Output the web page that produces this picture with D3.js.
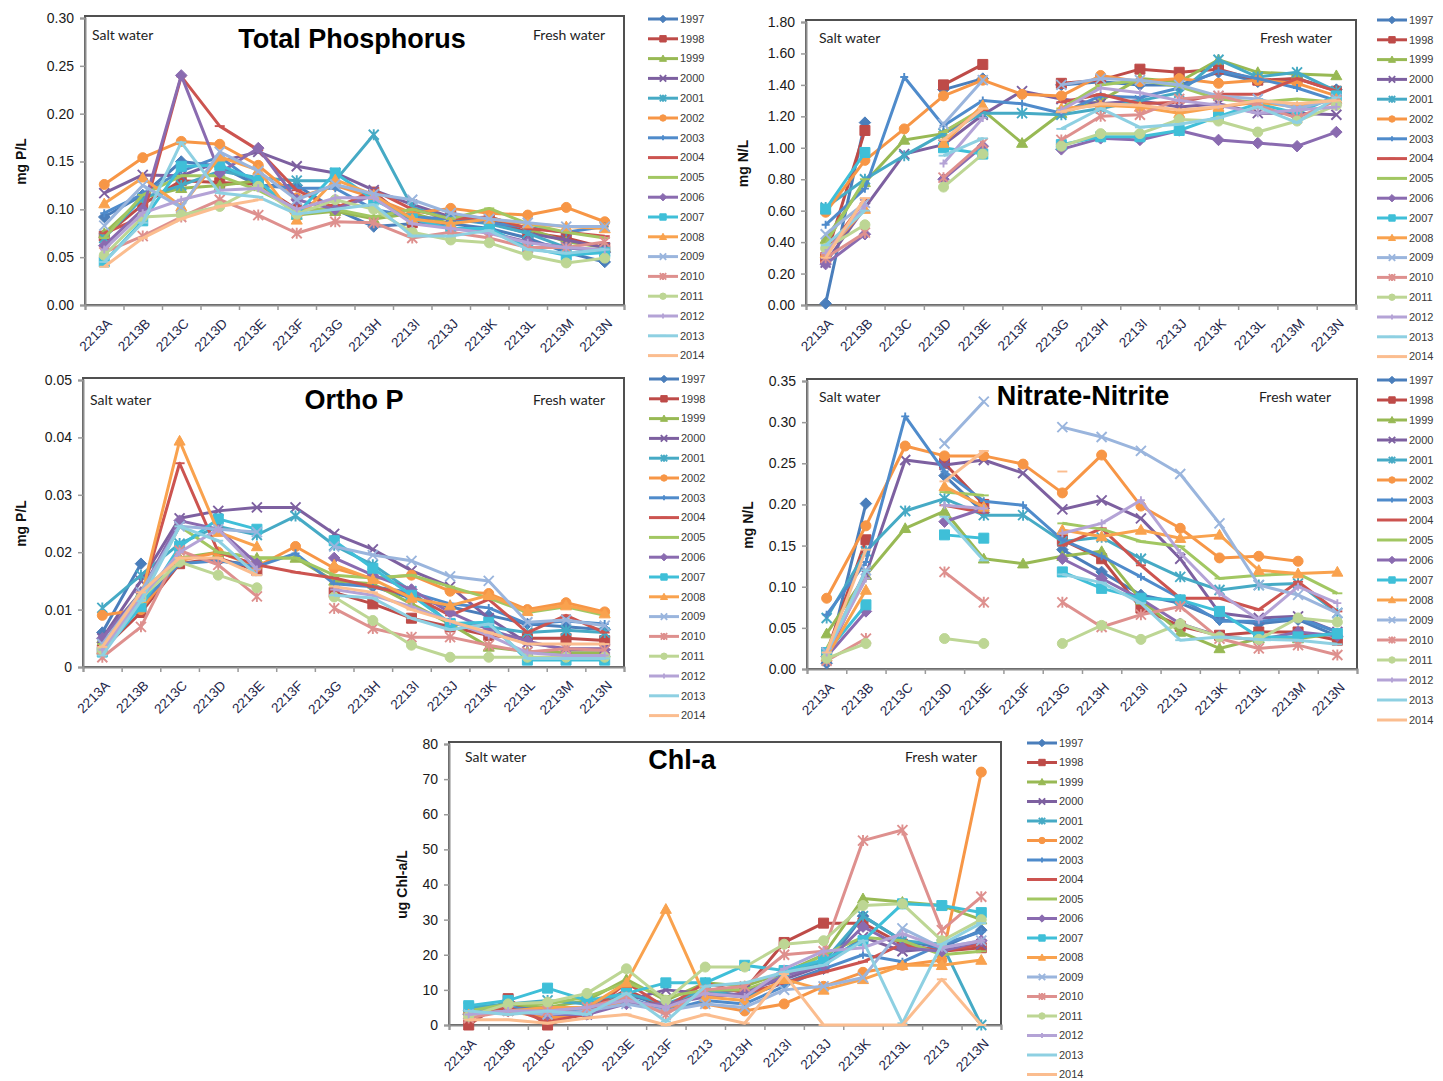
<!DOCTYPE html>
<html>
<head>
<meta charset="utf-8">
<script src="https://cdn.jsdelivr.net/npm/d3@7"></script>
<style>
  body { margin: 0; background: #fff; }
  svg { display: block; }
</style>
</head>
<body>
<svg id="chart" width="1443" height="1081"></svg>
<script>
// ---- data -------------------------------------------------------------
const years = ["1997","1998","1999","2000","2001","2002","2003","2004","2005",
               "2006","2007","2008","2009","2010","2011","2012","2013","2014"];
const sites = ["2213A","2213B","2213C","2213D","2213E","2213F","2213G",
               "2213H","2213I","2213J","2213K","2213L","2213M","2213N"];
const chlSites = ["2213A","2213B","2213C","2213D","2213E","2213F","2213",
                  "2213H","2213I","2213J","2213K","2213L","2213","2213N"];

const seriesColors = ["#4A7EBB","#BE4B48","#98B954","#7D60A0","#46AAC5","#F79646",
                      "#4F8BCB","#CC5450","#A2C762","#8A6BB0","#3FBFD8","#F9A24E",
                      "#9AB5DD","#DE908E","#BDD694","#B4A3D6","#8ED0E2","#FBBD8F"];
const seriesMarkers = ["diamond","square","triangle","x","star","circle","plus","dash","dash",
                       "diamond","square","triangle","x","star","circle","plus","dash","dash"];

// Total phosphorus, mg P/L (rows = years, columns = sites)
const totalP = [
  [0.092,0.115,0.150,0.145,0.125,0.125,0.100,0.082,0.085,0.085,0.080,0.070,0.055,0.045],
  [0.072,0.105,0.130,0.128,0.126,0.100,0.100,0.118,0.086,0.095,0.090,0.076,0.070,0.060],
  [0.075,0.112,0.122,0.125,0.130,0.094,0.098,0.090,0.096,0.085,0.092,0.080,0.066,0.060],
  [0.117,0.136,0.135,0.150,0.160,0.145,0.138,0.120,0.105,0.092,0.086,0.075,0.068,0.060],
  [0.070,0.112,0.125,0.140,0.133,0.130,0.130,0.178,0.102,0.090,0.085,0.075,0.060,0.056],
  [0.126,0.154,0.171,0.168,0.146,0.112,0.125,0.112,0.096,0.101,0.096,0.094,0.102,0.087],
  [0.096,0.116,0.140,0.155,0.125,0.122,0.122,0.100,0.092,0.090,0.086,0.081,0.076,0.082],
  [0.075,0.092,0.239,0.187,0.162,0.120,0.101,0.120,0.100,0.090,0.092,0.080,0.076,0.072],
  [0.070,0.115,0.135,0.135,0.120,0.100,0.100,0.092,0.100,0.090,0.101,0.085,0.076,0.070],
  [0.062,0.100,0.240,0.138,0.164,0.110,0.100,0.115,0.090,0.080,0.076,0.066,0.060,0.055],
  [0.045,0.088,0.145,0.146,0.130,0.095,0.138,0.110,0.090,0.080,0.080,0.060,0.052,0.055],
  [0.106,0.133,0.103,0.155,0.141,0.089,0.131,0.115,0.090,0.085,0.090,0.085,0.082,0.080],
  [0.083,0.125,0.102,0.160,0.140,0.110,0.126,0.116,0.110,0.096,0.090,0.086,0.082,0.082],
  [0.055,0.072,0.092,0.110,0.094,0.075,0.087,0.086,0.070,0.076,0.070,0.060,0.060,0.066],
  [0.052,0.092,0.094,0.103,0.124,0.095,0.110,0.100,0.076,0.068,0.065,0.052,0.044,0.049],
  [0.058,0.096,0.110,0.120,0.122,0.100,0.112,0.112,0.085,0.080,0.075,0.065,0.060,0.058],
  [0.045,0.086,0.170,0.117,0.113,0.095,0.100,0.105,0.072,0.072,0.078,0.058,0.054,0.058],
  [0.040,0.070,0.090,0.103,0.110,null,null,null,null,null,null,null,null,null]
];

// Total nitrogen, mg N/L
const totalN = [
  [0.01,1.16,null,1.37,1.44,null,1.40,1.42,1.40,1.40,1.48,1.42,1.44,1.37],
  [0.30,1.11,null,1.40,1.53,null,1.41,1.43,1.50,1.48,1.50,1.43,1.44,1.36],
  [0.42,0.78,1.05,1.09,1.24,1.03,1.22,1.30,1.44,1.42,1.56,1.48,1.47,1.46],
  [0.27,0.62,0.96,1.02,1.21,1.36,1.31,1.28,1.30,1.26,1.28,1.22,1.22,1.21],
  [0.62,0.80,0.95,1.09,1.22,1.22,1.21,1.25,1.30,1.35,1.56,1.45,1.48,1.36],
  [0.59,0.92,1.12,1.33,1.43,1.34,1.33,1.46,1.42,1.44,1.41,1.43,1.41,1.33],
  [0.51,0.74,1.45,1.14,1.30,1.28,1.22,1.33,1.32,1.38,1.49,1.44,1.38,1.30],
  [0.33,0.67,null,1.10,1.24,null,1.29,1.34,1.28,1.29,1.34,1.34,1.44,1.36],
  [0.39,0.80,null,1.10,1.25,null,1.25,1.40,1.43,1.39,1.31,1.29,1.31,1.29],
  [0.26,0.45,null,0.80,1.01,null,0.99,1.06,1.05,1.11,1.05,1.03,1.01,1.10],
  [0.61,0.97,null,1.00,0.96,null,1.02,1.07,1.07,1.11,1.20,1.28,1.22,1.33],
  [0.33,0.61,null,1.03,1.27,null,1.25,1.27,1.26,1.22,1.26,1.29,1.26,1.31],
  [0.45,0.65,null,1.15,1.43,null,1.40,1.44,1.43,1.40,1.33,1.31,1.25,1.31],
  [0.30,0.46,null,0.81,1.03,null,1.05,1.20,1.21,1.31,1.33,1.27,1.19,1.30],
  [0.36,0.51,null,0.75,0.96,null,1.01,1.09,1.09,1.18,1.17,1.10,1.17,1.27],
  [0.33,0.63,null,0.90,1.19,null,1.24,1.38,1.35,1.30,1.27,1.22,1.24,1.26],
  [0.38,0.60,null,0.95,1.06,null,1.12,1.25,1.13,1.15,1.19,1.26,1.16,1.32],
  [0.30,0.68,null,1.05,1.25,null,1.23,1.28,1.27,1.24,1.26,1.30,1.28,1.30]
];

// Ortho phosphate, mg P/L
const orthoP = [
  [0.006,0.018,null,0.0185,0.0178,null,0.0152,0.014,0.012,0.0105,0.009,0.0075,0.007,0.0065],
  [0.003,0.0095,0.018,0.019,0.0168,null,0.013,0.011,0.0085,0.007,0.0055,0.005,0.005,0.0046],
  [0.005,0.013,0.019,0.020,0.019,0.019,0.015,0.0145,0.011,0.0075,0.0035,0.0027,0.0025,0.0025],
  [0.005,0.015,0.0259,0.0272,0.0278,0.0278,0.0232,0.0205,0.0168,0.014,0.0085,0.0042,0.0032,0.0032],
  [0.0103,0.016,0.0215,0.0245,0.023,0.0263,0.0212,0.0178,0.0132,0.0075,0.007,0.006,0.0064,0.006],
  [0.009,0.010,0.0185,0.020,0.0175,0.021,0.0172,0.0154,0.016,0.0132,0.0128,0.010,0.0112,0.0096],
  [0.004,0.011,0.018,0.0185,0.0175,0.0198,0.0145,0.014,0.013,0.011,0.0103,0.0075,0.008,0.0075],
  [0.004,0.012,0.0355,0.020,0.0178,0.0165,0.0155,0.014,0.0125,0.009,0.0118,0.006,0.009,0.006],
  [0.004,0.012,0.0245,0.020,0.019,0.019,0.016,0.0155,0.016,0.014,0.012,0.0095,0.0105,0.009],
  [0.005,0.013,0.0255,0.024,0.018,null,0.019,0.016,0.0135,0.0095,0.0065,0.0045,0.003,0.003],
  [0.0026,0.0105,0.021,0.0258,0.024,null,0.022,0.0172,0.0125,0.0076,0.0078,0.0012,0.0012,0.0012],
  [0.003,0.012,0.0394,0.0235,0.021,null,0.0178,0.0153,0.012,0.0107,0.0125,0.0097,0.0107,0.0093],
  [0.004,0.013,0.0245,0.024,0.0235,null,0.021,0.0195,0.0185,0.0158,0.015,0.0078,0.0082,0.0072],
  [0.0017,0.007,0.0203,0.0178,0.0123,null,0.0102,0.0067,0.0052,0.0052,0.0038,0.0026,0.0032,0.0029],
  [0.003,0.012,0.0183,0.016,0.0138,null,0.0122,0.0081,0.0038,0.0017,0.0017,0.0017,0.0017,0.0017],
  [0.003,0.012,0.020,0.024,0.017,null,0.0135,0.0125,0.0105,0.008,0.0055,0.0025,0.002,0.002],
  [0.002,0.0115,0.0245,0.022,0.016,null,0.0125,0.012,0.0085,0.0065,0.0075,0.0015,0.0015,0.0015],
  [0.0035,0.013,0.019,0.019,0.016,null,0.014,0.013,0.010,0.008,0.006,0.004,0.004,0.004]
];

// Nitrate-nitrite, mg N/L
const nitrateNitrite = [
  [0.007,0.201,null,0.235,0.190,null,0.145,0.118,0.090,0.080,0.060,0.055,0.060,0.040],
  [0.020,0.157,null,0.250,0.200,null,0.157,0.134,0.074,0.052,0.041,0.045,0.045,0.035],
  [0.043,0.114,0.171,0.192,0.134,0.128,0.137,0.143,0.084,0.045,0.025,0.037,0.037,0.043],
  [0.015,0.115,0.254,0.248,0.254,0.238,0.194,0.205,0.183,0.134,0.068,0.062,0.064,0.045],
  [0.062,0.143,0.192,0.207,0.187,0.187,0.155,0.160,0.134,0.112,0.096,0.102,0.104,0.068],
  [0.086,0.174,0.271,0.259,0.259,0.249,0.214,0.260,0.198,0.171,0.135,0.137,0.131,null],
  [0.066,0.130,0.307,0.240,0.204,0.199,0.157,0.137,0.112,0.086,0.058,0.058,0.062,0.045],
  [0.020,0.120,null,0.199,0.190,null,0.150,0.171,0.126,0.086,0.086,0.072,0.106,0.070],
  [0.025,0.110,null,0.215,0.211,null,0.177,0.170,0.155,0.149,0.110,0.114,0.116,0.092],
  [0.015,0.070,null,0.179,0.195,null,0.134,0.110,0.085,0.055,0.040,0.035,0.045,0.040],
  [0.020,0.078,null,0.163,0.159,null,0.118,0.098,0.086,0.084,0.070,0.039,0.039,0.043],
  [0.015,0.096,null,0.222,0.197,null,0.169,0.161,0.169,0.159,0.163,0.120,0.116,0.118],
  [0.020,0.120,null,0.274,0.325,null,0.294,0.282,0.265,0.237,0.177,0.102,0.090,0.068],
  [0.010,0.037,null,0.118,0.081,null,0.081,0.051,0.066,0.076,0.037,0.025,0.029,0.017],
  [0.013,0.031,null,0.037,0.031,null,0.031,0.053,0.036,0.055,0.039,0.036,0.062,0.057],
  [0.020,0.110,null,0.199,0.195,null,0.165,0.177,0.205,0.141,0.092,0.060,0.100,0.080],
  [0.020,0.120,null,0.185,0.132,null,0.115,0.105,0.080,0.035,0.039,0.036,0.035,0.030],
  [0.020,0.145,null,0.228,0.265,null,0.240,null,null,null,null,null,null,null]
];

// Chlorophyll-a, ug/L
const chlA = [
  [4,6,4,5,9,5,9,8,12,16,31,24,22,27],
  [0,7.5,0,4,10,5,10,10,23.5,29,29,23,21,22],
  [4.5,6,5,7,13,7,12,11,15,20,36,35,34,30],
  [3,5,3,3,7,10,9,10,13,17,25,21,22,23],
  [5,6,7,6,9,6,10,8,15,18,31,24,23,0],
  [3,4,2,3,7,5,6,4,6,11,15,17,18.5,72],
  [4,5,4,4,8,4,7,6,11,16,20,18,23,26.5],
  [3,5,1,3,12,5,12,9,12,15,18,23,21,23],
  [4,6,6,8,12,8,10,10,14,20,25,24,20,21],
  [3,4,3,3,6,6,8,9,14,17,28,22,21,24],
  [5.5,7,10.5,7,9,12,12,17,15.5,18.5,24,34.5,34,32],
  [3,4,5,5,12,33,8,7,13,10,13,17,17,18.5],
  [3,4,3,4,6,4,6,5,10,11,13.5,27.5,22,24],
  [2,4,4,5,8,3,10,11,20,21,52.5,55.5,27,36.5],
  [2.5,6,6.5,9,16,7,16.5,16.5,23,24,34,34.5,24,30],
  [3,4,4,5,7,5,9,8,16,21,22,26,22,24],
  [4,3,4,3,9,1,11,12,15,17,24,0.5,23,29],
  [1.5,1.5,0.5,2,3,0,3,0.5,14.5,0,0,0,13,0]
];

const totalPTicks = [0, 0.05, 0.10, 0.15, 0.20, 0.25, 0.30];
const totalNTicks = [0, 0.2, 0.4, 0.6, 0.8, 1.0, 1.2, 1.4, 1.6, 1.8];
const orthoPTicks = [0, 0.01, 0.02, 0.03, 0.04, 0.05];
const nitrateTicks = [0, 0.05, 0.10, 0.15, 0.20, 0.25, 0.30, 0.35];
const chlTicks = [0, 10, 20, 30, 40, 50, 60, 70, 80];

// ---- panel layout -----------------------------------------------------
const fmt2 = d3.format(".2f");
const panels = [
  { data: totalP, labels: sites, ticks: totalPTicks, fmt: fmt2, yTitle: "mg P/L",
    title: "Total Phosphorus", left: 85, right: 624, top: 18, bottom: 305,
    titleX: 352, titleY: 48, saltX: 92, saltY: 40, freshX: 605, freshY: 40,
    yTitleX: 21, legendX: 648, legendY: 19, legendStep: 19.8 },
  { data: totalN, labels: sites, ticks: totalNTicks, fmt: fmt2, yTitle: "mg N/L",
    title: "", left: 806, right: 1356, top: 22, bottom: 305,
    titleX: 0, titleY: 0, saltX: 819, saltY: 43, freshX: 1332, freshY: 43,
    yTitleX: 743, legendX: 1377, legendY: 20, legendStep: 19.8 },
  { data: orthoP, labels: sites, ticks: orthoPTicks, fmt: d => d === 0 ? "0" : fmt2(d), yTitle: "mg P/L",
    title: "Ortho P", left: 83, right: 624, top: 380, bottom: 667,
    titleX: 354, titleY: 409, saltX: 90, saltY: 405, freshX: 605, freshY: 405,
    yTitleX: 21, legendX: 649, legendY: 379, legendStep: 19.8 },
  { data: nitrateNitrite, labels: sites, ticks: nitrateTicks, fmt: fmt2, yTitle: "mg N/L",
    title: "Nitrate-Nitrite", left: 807, right: 1357, top: 381, bottom: 669,
    titleX: 1083, titleY: 405, saltX: 819, saltY: 402, freshX: 1331, freshY: 402,
    yTitleX: 748, legendX: 1377, legendY: 380, legendStep: 20 },
  { data: chlA, labels: chlSites, ticks: chlTicks, fmt: d3.format("d"), yTitle: "ug Chl-a/L",
    title: "Chl-a", left: 449, right: 1001, top: 744, bottom: 1025,
    titleX: 682, titleY: 769, saltX: 465, saltY: 762, freshX: 977, freshY: 762,
    yTitleX: 402, legendX: 1027, legendY: 743, legendStep: 19.5 }
];

const SANS = "'Liberation Sans', Arial, sans-serif";
const NOTE_FONT = "Lato, 'Open Sans', sans-serif";
const filledMarkers = new Set(["diamond", "square", "triangle", "circle"]);

function markerPath(type, s) {
  switch (type) {
    case "diamond":  return `M0,${-s * 1.15}L${s * 1.15},0L0,${s * 1.15}L${-s * 1.15},0Z`;
    case "square":   return `M${-s},${-s}h${2 * s}v${2 * s}h${-2 * s}Z`;
    case "triangle": return `M0,${-s * 1.1}L${s * 1.1},${s * 0.85}L${-s * 1.1},${s * 0.85}Z`;
    case "circle":   return d3.symbol(d3.symbolCircle, Math.PI * s * s)();
    case "x":        return `M${-s},${-s}L${s},${s}M${-s},${s}L${s},${-s}`;
    case "star":     return `M${-s},${-s}L${s},${s}M${-s},${s}L${s},${-s}M0,${-s * 1.1}L0,${s * 1.1}`;
    case "plus":     return `M${-s * 0.8},0L${s * 0.8},0M0,${-s * 0.8}L0,${s * 0.8}`;
    default:         return `M${-s},0L${s},0`;
  }
}

function drawMarker(sel, type, color, s) {
  sel.append("path")
    .attr("d", markerPath(type, s))
    .attr("fill", filledMarkers.has(type) ? color : "none")
    .attr("stroke", color)
    .attr("stroke-width", filledMarkers.has(type) ? 1 : 1.9);
}

const svg = d3.select("#chart");

panels.forEach(p => {
  const g = svg.append("g");
  const n = p.labels.length;
  const x = d3.scaleBand().domain(d3.range(n)).range([p.left, p.right]);
  const xEdge = d3.scaleLinear().domain([0, n]).range([p.left, p.right]);
  const y = d3.scaleLinear().domain([0, p.ticks[p.ticks.length - 1]]).range([p.bottom, p.top]);
  const cx = i => x(i) + x.bandwidth() / 2;

  // plot frame
  g.append("rect")
    .attr("x", p.left).attr("y", p.top - 2)
    .attr("width", p.right - p.left).attr("height", p.bottom - p.top + 2)
    .attr("fill", "#fff").attr("stroke", "#505050").attr("stroke-width", 2);

  // y axis
  const ya = g.append("g")
    .attr("transform", `translate(${p.left},0)`)
    .call(d3.axisLeft(y).tickValues(p.ticks).tickFormat(p.fmt).tickSize(5).tickPadding(6));
  ya.select(".domain").attr("stroke", "#8c8c8c").attr("stroke-width", 2);
  ya.selectAll(".tick line").attr("stroke", "#9a9a9a").attr("stroke-width", 1.5);
  ya.selectAll(".tick text")
    .attr("font-family", SANS).attr("font-size", 14).attr("fill", "#1a1a1a");

  // x axis tick marks at category boundaries
  const xe = g.append("g")
    .attr("transform", `translate(0,${p.bottom})`)
    .call(d3.axisBottom(xEdge).tickValues(d3.range(n + 1)).tickFormat("").tickSize(5));
  xe.select(".domain").attr("stroke", "#8c8c8c").attr("stroke-width", 2);
  xe.selectAll(".tick line").attr("stroke", "#9a9a9a").attr("stroke-width", 1.5);

  // x category labels, slanted
  const xl = g.append("g")
    .attr("transform", `translate(0,${p.bottom})`)
    .call(d3.axisBottom(x).tickSize(0).tickFormat(i => p.labels[i]));
  xl.select(".domain").remove();
  xl.selectAll(".tick text")
    .attr("font-family", SANS).attr("font-size", 13.5).attr("fill", "#23264a")
    .attr("x", 0).attr("y", 0).attr("dy", "0.35em")
    .attr("text-anchor", "end")
    .attr("transform", "translate(5,16) rotate(-45)");

  // y axis title
  g.append("text")
    .attr("transform", `translate(${p.yTitleX},${(p.top + p.bottom) / 2}) rotate(-90)`)
    .attr("text-anchor", "middle").attr("dy", "0.35em")
    .attr("font-family", SANS).attr("font-weight", "bold").attr("font-size", 14)
    .attr("fill", "#111").text(p.yTitle);

  // notes and title
  g.append("text").attr("x", p.saltX).attr("y", p.saltY)
    .attr("font-family", NOTE_FONT).attr("font-size", 14).attr("fill", "#1e1e1e")
    .text("Salt water");
  g.append("text").attr("x", p.freshX).attr("y", p.freshY).attr("text-anchor", "end")
    .attr("font-family", NOTE_FONT).attr("font-size", 14).attr("fill", "#1e1e1e")
    .text("Fresh water");
  if (p.title) {
    g.append("text").attr("x", p.titleX).attr("y", p.titleY).attr("text-anchor", "middle")
      .attr("font-family", SANS).attr("font-weight", "bold").attr("font-size", 27)
      .attr("fill", "#000").text(p.title);
  }

  // series
  const line = d3.line()
    .defined(d => d.v != null)
    .x(d => cx(d.i))
    .y(d => y(d.v));

  p.data.forEach((vals, si) => {
    const pts = vals.map((v, i) => ({ i, v }));
    const color = seriesColors[si];
    const sg = g.append("g");
    sg.append("path").datum(pts)
      .attr("d", line)
      .attr("fill", "none").attr("stroke", color)
      .attr("stroke-width", 3).attr("stroke-linejoin", "round");
    pts.filter(d => d.v != null).forEach(d => {
      const m = sg.append("g").attr("transform", `translate(${cx(d.i)},${y(d.v)})`);
      drawMarker(m, seriesMarkers[si], color, 5);
    });
  });

  // legend
  const lg = g.append("g");
  years.forEach((yr, si) => {
    const yy = p.legendY + si * p.legendStep;
    const color = seriesColors[si];
    lg.append("line")
      .attr("x1", p.legendX).attr("x2", p.legendX + 30)
      .attr("y1", yy).attr("y2", yy)
      .attr("stroke", color).attr("stroke-width", 3);
    const m = lg.append("g").attr("transform", `translate(${p.legendX + 15},${yy})`);
    drawMarker(m, seriesMarkers[si], color, 3.2);
    lg.append("text")
      .attr("x", p.legendX + 32).attr("y", yy).attr("dy", "0.35em")
      .attr("font-family", SANS).attr("font-size", 11).attr("fill", "#3a3a3a")
      .text(yr);
  });
});
</script>
</body>
</html>
